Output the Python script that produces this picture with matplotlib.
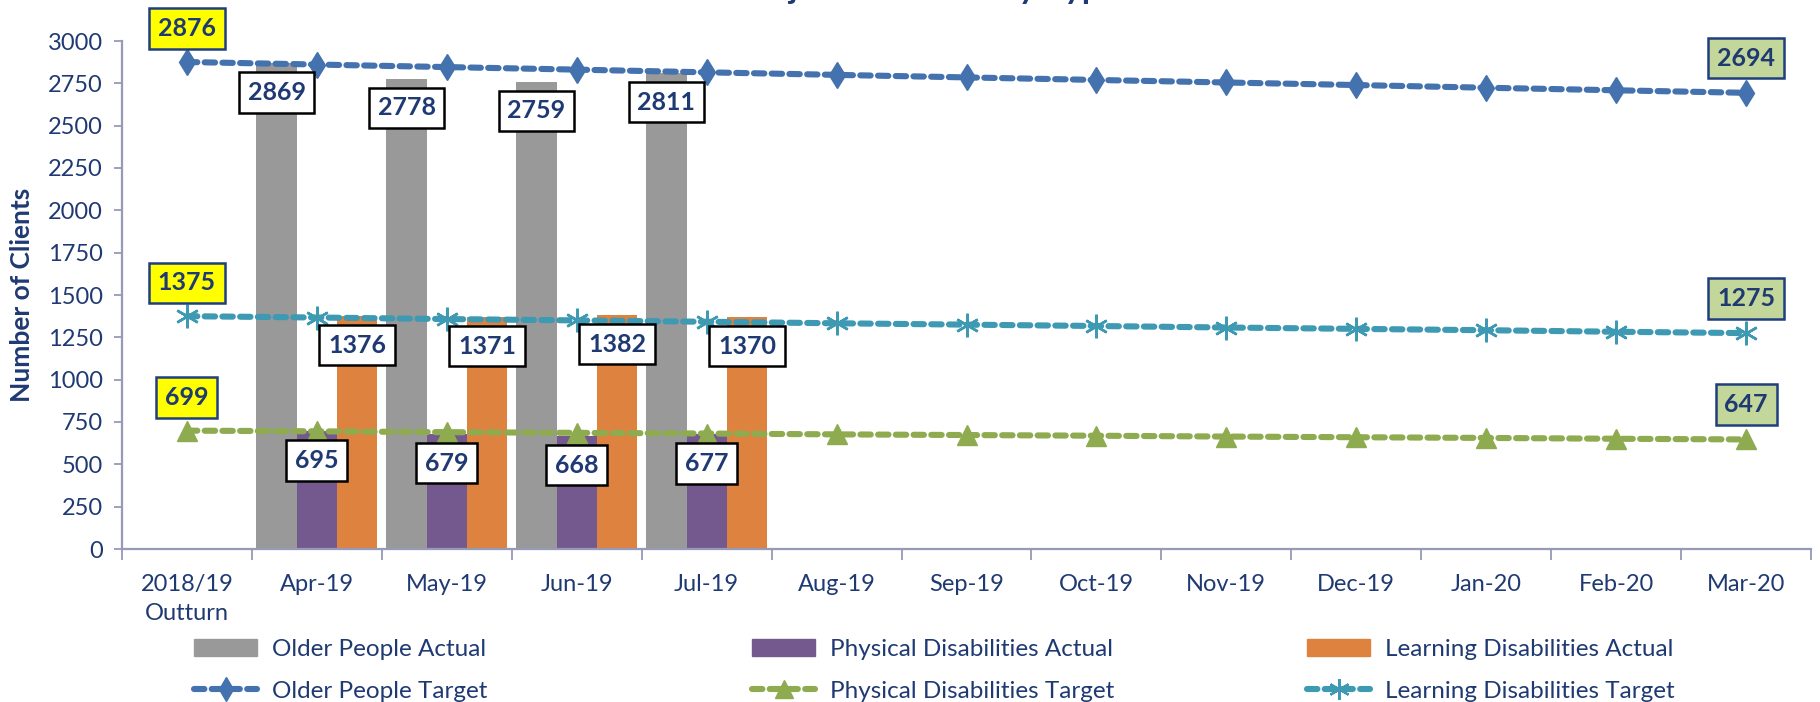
import numpy as np
import matplotlib
matplotlib.use('Agg')
from matplotlib import pyplot as plt
from matplotlib.patches import Patch
from matplotlib.lines import Line2D

# chart data
months = ['2018/19\nOutturn', 'Apr-19', 'May-19', 'Jun-19', 'Jul-19', 'Aug-19', 'Sep-19',
          'Oct-19', 'Nov-19', 'Dec-19', 'Jan-20', 'Feb-20', 'Mar-20']

actual_idx = [1, 2, 3, 4]  # months with actuals
older_actual = [2869, 2778, 2759, 2811]
physical_actual = [695, 679, 668, 677]
learning_actual = [1376, 1371, 1382, 1370]

older_target = [2876, 2861, 2846, 2831, 2815, 2800, 2785, 2770, 2755, 2740, 2724, 2709, 2694]
physical_target = [699, 695, 690, 686, 682, 677, 673, 669, 664, 660, 656, 651, 647]
learning_target = [1375, 1367, 1358, 1350, 1342, 1333, 1325, 1317, 1308, 1300, 1292, 1283, 1275]

title = 'Projected Clients by Type'

# styling
NAVY = '#1F3A73'
AXIS_C = '#969AB8'
GREY = '#999999'
PURPLE = '#74598F'
ORANGE = '#DD833F'
BLUE = '#4472AE'
GREEN = '#8FAB4F'
TEAL = '#3E9AB3'
FONT = 'Lato'

plt.rcParams['font.family'] = [FONT, 'DejaVu Sans']

W, H = 1820, 702
fig = plt.figure(figsize=(W / 100, H / 100), dpi=100)
ax = fig.add_axes([122 / W, 1 - 549 / H, (1811 - 122) / W, (549 - 41) / H])

x = np.arange(len(months))
xa = np.array(actual_idx)
bw = 0.31
ax.bar(xa - 0.31, older_actual, bw, color=GREY, zorder=2)
ax.bar(xa, physical_actual, bw, color=PURPLE, zorder=2)
ax.bar(xa + 0.31, learning_actual, bw, color=ORANGE, zorder=2)

dash = (0, (1.7, 1.2))
line_kw = dict(linewidth=4.4, linestyle=dash, dash_capstyle='round', zorder=3)
ax.plot(x, older_target, color=BLUE, marker='d', markersize=13, **line_kw)
ax.plot(x, physical_target, color=GREEN, marker='^', markersize=14, **line_kw)
ax.plot(x, learning_target, color=TEAL, marker=(6, 2, 0), markersize=17,
        markeredgewidth=1.8, **line_kw)

# bar value labels
box_white = dict(boxstyle='square,pad=0.35', fc='white', ec='black', lw=1.8)
for off, vals in [(-0.31, older_actual), (0.0, physical_actual), (0.31, learning_actual)]:
    for xi, v in zip(xa, vals):
        ax.annotate(str(v), (xi + off, v), xytext=(0, -21), textcoords='offset points',
                    ha='center', va='center', fontsize=18, fontweight='bold', color=NAVY,
                    bbox=box_white, zorder=5)

# first / last target labels
box_yel = dict(boxstyle='square,pad=0.35', fc='#FFFF00', ec='#1F3F7F', lw=1.8)
box_grn = dict(boxstyle='square,pad=0.35', fc='#C4D79B', ec='#1F3F7F', lw=1.8)
for vals in [older_target, physical_target, learning_target]:
    ax.annotate(str(vals[0]), (0, vals[0]), xytext=(0, 24), textcoords='offset points',
                ha='center', va='center', fontsize=18, fontweight='bold', color=NAVY,
                bbox=box_yel, zorder=5, annotation_clip=False)
    ax.annotate(str(vals[-1]), (12, vals[-1]), xytext=(0, 25), textcoords='offset points',
                ha='center', va='center', fontsize=18, fontweight='bold', color=NAVY,
                bbox=box_grn, zorder=5, annotation_clip=False)

# axes
ax.set_xlim(-0.5, 12.5)
ax.set_ylim(0, 3000)
ax.set_yticks(np.arange(0, 3001, 250))
ax.set_xticks(x)
ax.set_xticklabels(months, linespacing=1.5)
ax.set_xticks(np.arange(-0.5, 13, 1), minor=True)
ax.tick_params(axis='x', which='major', length=0, pad=18, labelsize=17, labelcolor=NAVY)
ax.tick_params(axis='x', which='minor', length=8, width=1.3, color=AXIS_C)
ax.tick_params(axis='y', length=6, width=1.3, color=AXIS_C, pad=8, labelsize=17, labelcolor=NAVY)
for s in ['top', 'right']:
    ax.spines[s].set_visible(False)
for s in ['left', 'bottom']:
    ax.spines[s].set_color(AXIS_C)
    ax.spines[s].set_linewidth(1.6)
ax.set_ylabel('Number of Clients', fontsize=19, fontweight='bold', color=NAVY)
ax.yaxis.set_label_coords(-88 / (1811 - 122), 0.5)

# title sits mostly above the top edge, as in the source image
fig.text(0.51, 1 + 1 / H, title, ha='center', va='baseline', fontsize=24,
         fontweight='bold', color=NAVY)

# legend: three columns of two entries
lkw = dict(linewidth=4.4, linestyle=dash, dash_capstyle='round')
cols = [
    (194, [Patch(color=GREY), Line2D([], [], color=BLUE, marker='d', markersize=12, **lkw)],
     ['Older People Actual', 'Older People Target']),
    (752, [Patch(color=PURPLE), Line2D([], [], color=GREEN, marker='^', markersize=13, **lkw)],
     ['Physical Disabilities Actual', 'Physical Disabilities Target']),
    (1307, [Patch(color=ORANGE), Line2D([], [], color=TEAL, marker=(6, 2, 0), markeredgewidth=1.6,
                                         markersize=15, **lkw)],
     ['Learning Disabilities Actual', 'Learning Disabilities Target']),
]
for xl, handles, labels in cols:
    fig.legend(handles, labels, loc='upper left', bbox_to_anchor=(xl / W, 1 - 639 / H),
               frameon=False, fontsize=17.5, labelcolor=NAVY, handlelength=2.6,
               handletextpad=0.6, labelspacing=0.85, borderpad=0, borderaxespad=0)

fig.savefig('out.png', dpi=100)
